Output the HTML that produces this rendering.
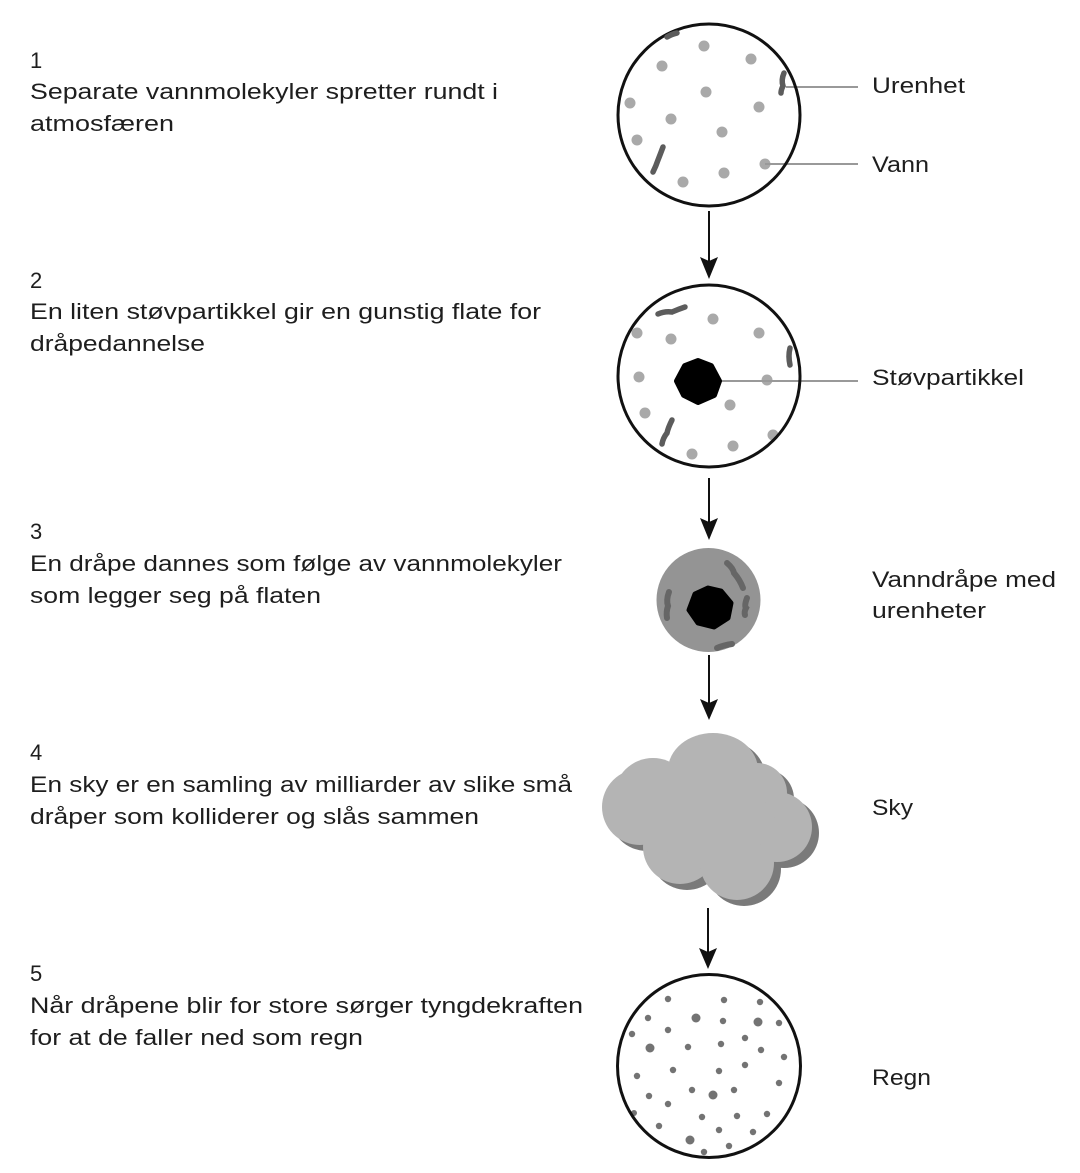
<!DOCTYPE html>
<html><head><meta charset="utf-8"><style>
html,body{margin:0;padding:0;background:#fff;}
svg{display:block;}
text{font-family:"Liberation Sans",Arial,sans-serif;font-size:22px;fill:#1e1e1e;}
</style></head><body>
<svg width="1080" height="1173" viewBox="0 0 1080 1173" xmlns="http://www.w3.org/2000/svg">
<rect width="1080" height="1173" fill="#fff"/>

<!-- Left text -->
<text x="30" y="68">1</text>
<text x="30" y="99" textLength="468" lengthAdjust="spacingAndGlyphs">Separate vannmolekyler spretter rundt i</text>
<text x="30" y="131" textLength="144" lengthAdjust="spacingAndGlyphs">atmosfæren</text>

<text x="30" y="288">2</text>
<text x="30" y="319" textLength="511" lengthAdjust="spacingAndGlyphs">En liten støvpartikkel gir en gunstig flate for</text>
<text x="30" y="351" textLength="175" lengthAdjust="spacingAndGlyphs">dråpedannelse</text>

<text x="30" y="539">3</text>
<text x="30" y="571" textLength="532" lengthAdjust="spacingAndGlyphs">En dråpe dannes som følge av vannmolekyler</text>
<text x="30" y="603" textLength="291" lengthAdjust="spacingAndGlyphs">som legger seg på flaten</text>

<text x="30" y="760">4</text>
<text x="30" y="792" textLength="542" lengthAdjust="spacingAndGlyphs">En sky er en samling av milliarder av slike små</text>
<text x="30" y="824" textLength="449" lengthAdjust="spacingAndGlyphs">dråper som kolliderer og slås sammen</text>

<text x="30" y="981">5</text>
<text x="30" y="1013" textLength="553" lengthAdjust="spacingAndGlyphs">Når dråpene blir for store sørger tyngdekraften</text>
<text x="30" y="1045" textLength="333" lengthAdjust="spacingAndGlyphs">for at de faller ned som regn</text>

<!-- Right labels -->
<text x="872" y="93" textLength="93" lengthAdjust="spacingAndGlyphs">Urenhet</text>
<text x="872" y="172" textLength="57" lengthAdjust="spacingAndGlyphs">Vann</text>
<text x="872" y="385" textLength="152" lengthAdjust="spacingAndGlyphs">Støvpartikkel</text>
<text x="872" y="587" textLength="184" lengthAdjust="spacingAndGlyphs">Vanndråpe med</text>
<text x="872" y="618" textLength="114" lengthAdjust="spacingAndGlyphs">urenheter</text>
<text x="872" y="815" textLength="41" lengthAdjust="spacingAndGlyphs">Sky</text>
<text x="872" y="1085" textLength="59" lengthAdjust="spacingAndGlyphs">Regn</text>

<!-- Circle 1 -->
<g fill="#a9a9a9">
<circle cx="704" cy="46" r="5.5"/><circle cx="662" cy="66" r="5.5"/><circle cx="751" cy="59" r="5.5"/>
<circle cx="706" cy="92" r="5.5"/><circle cx="630" cy="103" r="5.5"/><circle cx="759" cy="107" r="5.5"/>
<circle cx="671" cy="119" r="5.5"/><circle cx="722" cy="132" r="5.5"/><circle cx="637" cy="140" r="5.5"/>
<circle cx="765" cy="164" r="5.5"/><circle cx="724" cy="173" r="5.5"/><circle cx="683" cy="182" r="5.5"/>
</g>
<line x1="786" y1="87" x2="858" y2="87" stroke="#999" stroke-width="2"/>
<line x1="765" y1="164" x2="858" y2="164" stroke="#999" stroke-width="2"/>
<circle cx="709" cy="115" r="91" fill="none" stroke="#111" stroke-width="3"/>
<g fill="none" stroke="#5c5c5c" stroke-width="5.5" stroke-linecap="round">
<path d="M667,37 Q672,34 677,33"/>
<path d="M784,73 Q781,80 783,86 Q781,90 781,93"/>
<path d="M663,147 Q660,155 658,160 Q656,166 653,172"/>
</g>

<!-- Arrow 1 -->
<line x1="709" y1="211" x2="709" y2="262" stroke="#111" stroke-width="2"/>
<path d="M700,257 L709,261 L718,257 L709,279 Z" fill="#111"/>

<!-- Circle 2 -->
<g fill="#a9a9a9">
<circle cx="713" cy="319" r="5.5"/><circle cx="637" cy="333" r="5.5"/><circle cx="759" cy="333" r="5.5"/>
<circle cx="671" cy="339" r="5.5"/><circle cx="639" cy="377" r="5.5"/><circle cx="767" cy="380" r="5.5"/>
<circle cx="730" cy="405" r="5.5"/><circle cx="645" cy="413" r="5.5"/><circle cx="773" cy="435" r="5.5"/>
<circle cx="733" cy="446" r="5.5"/><circle cx="692" cy="454" r="5.5"/>
</g>
<line x1="715" y1="381" x2="858" y2="381" stroke="#999" stroke-width="2"/>
<path d="M698,361 L711,366 L719,381 L714,395 L698,402 L684,395 L677,381 L685,366 Z" fill="#000" stroke="#000" stroke-width="6" stroke-linejoin="round"/>
<circle cx="709" cy="376" r="91" fill="none" stroke="#111" stroke-width="3"/>
<g fill="none" stroke="#5c5c5c" stroke-width="5.5" stroke-linecap="round">
<path d="M658,314 Q665,311 672,312 Q679,309 685,307"/>
<path d="M790,348 Q788,356 790,365"/>
<path d="M672,420 Q668,428 667,433 Q663,438 662,444"/>
</g>

<!-- Arrow 2 -->
<line x1="709" y1="478" x2="709" y2="522" stroke="#111" stroke-width="2"/>
<path d="M700,518 L709,522 L718,518 L709,540 Z" fill="#111"/>

<!-- Drop 3 -->
<circle cx="708.5" cy="600" r="52" fill="#949494"/>
<g fill="none" stroke="#666" stroke-width="6" stroke-linecap="round">
<path d="M727,563 Q733,568 734,573 Q740,580 743,588"/>
<path d="M669,592 Q666,600 668,606 Q666,612 667,618"/>
<path d="M747,598 Q744,606 746,608 Q744,612 745,615"/>
<path d="M717,648 Q724,645 732,644"/>
</g>
<path d="M708,588 L721,591 L731,603 L728,618 L714,627 L698,623 L689,610 L695,594 Z" fill="#000" stroke="#000" stroke-width="5" stroke-linejoin="round"/>

<!-- Arrow 3 -->
<line x1="709" y1="655" x2="709" y2="703" stroke="#111" stroke-width="2"/>
<path d="M700,699 L709,703 L718,699 L709,720 Z" fill="#111"/>

<!-- Cloud -->
<g transform="translate(7,6)" fill="#7a7a7a">
<ellipse cx="713" cy="770" rx="45" ry="37"/>
<circle cx="653" cy="797" r="39"/>
<circle cx="640" cy="807" r="38"/>
<circle cx="680" cy="847" r="37"/>
<circle cx="737" cy="863" r="37"/>
<circle cx="777" cy="827" r="35"/>
<circle cx="757" cy="793" r="30"/>
<ellipse cx="710" cy="820" rx="60" ry="45"/>
</g>
<g fill="#b4b4b4">
<ellipse cx="713" cy="770" rx="45" ry="37"/>
<circle cx="653" cy="797" r="39"/>
<circle cx="640" cy="807" r="38"/>
<circle cx="680" cy="847" r="37"/>
<circle cx="737" cy="863" r="37"/>
<circle cx="777" cy="827" r="35"/>
<circle cx="757" cy="793" r="30"/>
<ellipse cx="710" cy="820" rx="60" ry="45"/>
</g>

<!-- Arrow 4 -->
<line x1="708" y1="908" x2="708" y2="952" stroke="#111" stroke-width="2"/>
<path d="M699,948 L708,952 L717,948 L708,969 Z" fill="#111"/>

<!-- Rain circle -->
<g fill="#737373">
<circle cx="668" cy="999" r="3.2"/><circle cx="724" cy="1000" r="3.2"/><circle cx="760" cy="1002" r="3.2"/>
<circle cx="648" cy="1018" r="3.2"/><circle cx="696" cy="1018" r="4.5"/><circle cx="723" cy="1021" r="3.2"/>
<circle cx="758" cy="1022" r="4.5"/><circle cx="779" cy="1023" r="3.2"/><circle cx="632" cy="1034" r="3.2"/>
<circle cx="668" cy="1030" r="3.2"/><circle cx="745" cy="1038" r="3.2"/><circle cx="650" cy="1048" r="4.5"/>
<circle cx="688" cy="1047" r="3.2"/><circle cx="721" cy="1044" r="3.2"/><circle cx="761" cy="1050" r="3.2"/>
<circle cx="784" cy="1057" r="3.2"/><circle cx="637" cy="1076" r="3.2"/><circle cx="673" cy="1070" r="3.2"/>
<circle cx="719" cy="1071" r="3.2"/><circle cx="745" cy="1065" r="3.2"/><circle cx="779" cy="1083" r="3.2"/>
<circle cx="692" cy="1090" r="3.2"/><circle cx="713" cy="1095" r="4.5"/><circle cx="734" cy="1090" r="3.2"/>
<circle cx="649" cy="1096" r="3.2"/><circle cx="668" cy="1104" r="3.2"/><circle cx="634" cy="1113" r="3"/>
<circle cx="702" cy="1117" r="3.2"/><circle cx="737" cy="1116" r="3.2"/><circle cx="767" cy="1114" r="3.2"/>
<circle cx="659" cy="1126" r="3.2"/><circle cx="719" cy="1130" r="3.2"/><circle cx="753" cy="1132" r="3.2"/>
<circle cx="690" cy="1140" r="4.5"/><circle cx="729" cy="1146" r="3.2"/><circle cx="704" cy="1152" r="3.2"/>
</g>
<circle cx="709" cy="1066" r="91.5" fill="none" stroke="#111" stroke-width="3"/>
</svg>
</body></html>
